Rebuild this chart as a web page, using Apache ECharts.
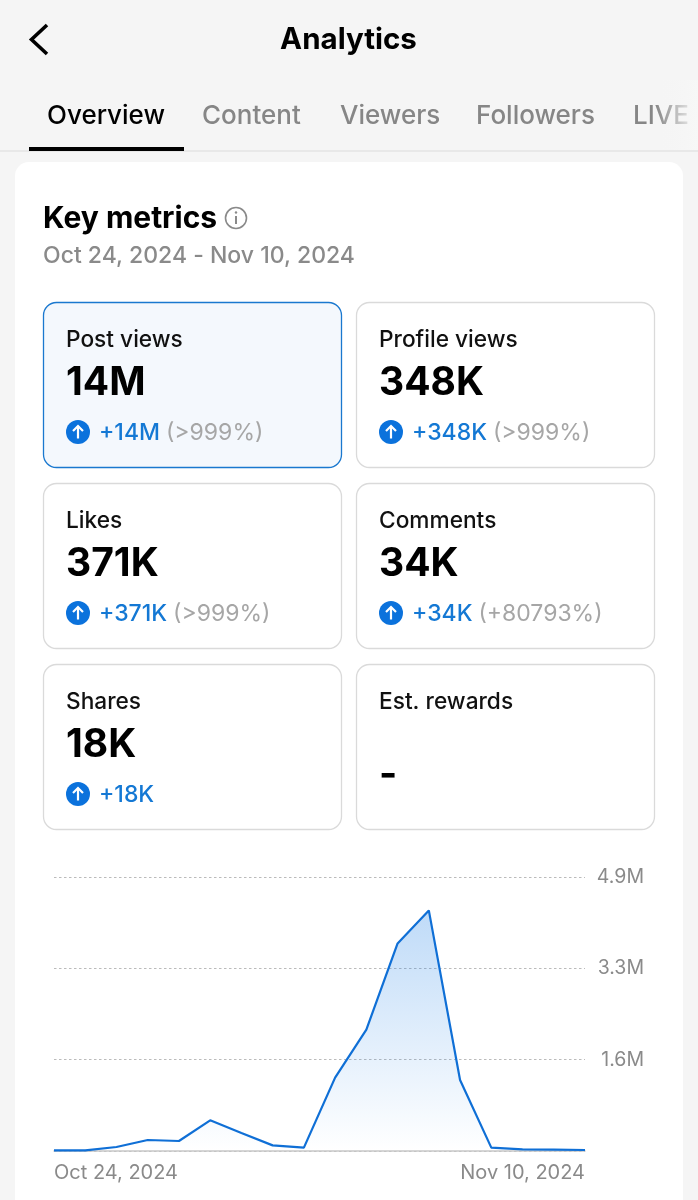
<!DOCTYPE html>
<html>
<head>
<meta charset="utf-8">
<title>Analytics</title>
<style>
  html, body { margin: 0; padding: 0; background: #f5f5f5; }
  #main { width: 698px; height: 1200px; }
</style>
<script src="https://cdn.jsdelivr.net/npm/echarts@6/dist/echarts.min.js"></script>
</head>
<body>
<div id="main"></div>
<script>
// chart data
const dates = ['Oct 24, 2024', 'Oct 25', 'Oct 26', 'Oct 27', 'Oct 28', 'Oct 29', 'Oct 30', 'Oct 31', 'Nov 1',
  'Nov 2', 'Nov 3', 'Nov 4', 'Nov 5', 'Nov 6', 'Nov 7', 'Nov 8', 'Nov 9', 'Nov 10, 2024'];
const postViews = [12000, 12000, 72000, 197000, 179000, 549000, 322000, 101000, 60000,
  1313000, 2172000, 3712000, 4303000, 1271000, 60000, 30000, 24000, 18000];
const yTickLabels = ['', '1.6M', '3.3M', '4.9M'];
const yMax = 4900000;

// ui text
const tabNames = ['Overview', 'Content', 'Viewers', 'Followers', 'LIVE'];
const tabLefts = [47, 202, 340, 476, 633];
const metricNames = ['Post views', 'Profile views', 'Likes', 'Comments', 'Shares', 'Est. rewards'];
const metricValues = ['14M', '348K', '371K', '34K', '18K', '-'];
const metricDeltas = ['+14M', '+348K', '+371K', '+34K', '+18K', ''];
const metricPercents = ['(>999%)', '(>999%)', '(>999%)', '(+80793%)', '', ''];

const FONT = 'Inter, "Noto Sans", sans-serif';
const BLUE = '#0f6fd6';

function text(x, y, str, size, weight, fill, align) {
  return {
    type: 'text',
    x: x,
    y: y + 1.5, // Inter sits a bit high with middle alignment
    style: { text: str, font: weight + ' ' + size + 'px ' + FONT, fill: fill, textAlign: align || 'left', textVerticalAlign: 'middle' }
  };
}

const elements = [];

// header
elements.push({ type: 'polyline', shape: { points: [[47, 25], [31.5, 39.5], [47, 54]] }, style: { stroke: '#000', lineWidth: 3.6, fill: null } });
elements.push(text(348.5, 39, 'Analytics', 29.5, 700, '#000', 'center'));

// tabs
tabNames.forEach((name, i) => {
  elements.push(text(tabLefts[i], 115, name, 26, 500, i === 0 ? '#000' : '#868686'));
});
elements.push({
  type: 'rect', shape: { x: 655, y: 80, width: 43, height: 70 },
  style: { fill: new echarts.graphic.LinearGradient(0, 0, 1, 0, [
    { offset: 0, color: 'rgba(245,245,245,0)' },
    { offset: 1, color: '#f7f7f7' }
  ]) }
});
elements.push({ type: 'rect', shape: { x: 0, y: 150.5, width: 698, height: 1 }, style: { fill: '#dcdcdc' } });
elements.push({ type: 'rect', shape: { x: 29, y: 147, width: 155, height: 4 }, style: { fill: '#000' } });

// white panel
elements.push({ type: 'rect', z: -1, shape: { x: 15, y: 162, width: 668, height: 1060, r: 14 }, style: { fill: '#fff' } });
elements.push(text(43, 217.5, 'Key metrics', 30, 700, '#000'));
elements.push({ type: 'circle', shape: { cx: 236, cy: 218, r: 10.5 }, style: { stroke: '#8a8a8a', lineWidth: 1.6, fill: null } });
elements.push({ type: 'rect', shape: { x: 235, y: 216, width: 2, height: 8 }, style: { fill: '#8a8a8a' } });
elements.push({ type: 'circle', shape: { cx: 236, cy: 212.5, r: 1.2 }, style: { fill: '#8a8a8a' } });
elements.push(text(43, 255, 'Oct 24, 2024 - Nov 10, 2024', 23, 500, '#8a8a8a'));

// metric cards
metricNames.forEach((name, i) => {
  const left = i % 2 === 0 ? 43 : 356;
  const top = 302 + Math.floor(i / 2) * 181;
  const active = i === 0;
  elements.push({
    type: 'rect',
    shape: { x: left + 0.5, y: top + 0.5, width: 298, height: 165, r: 13 },
    style: { fill: active ? '#f4f8fd' : '#fff', stroke: active ? '#1a78cf' : '#dadada', lineWidth: 1.3 }
  });
  elements.push(text(left + 23, top + 37, name, 22.7, 500, '#111'));
  // the empty reward value sits lower than the numbers
  elements.push(text(left + 23, top + (metricValues[i] === '-' ? 110 : 80), metricValues[i], 39, 700, '#000'));
  if (metricDeltas[i]) {
    const cx = left + 35, cy = top + 130;
    elements.push({ type: 'circle', shape: { cx: cx, cy: cy, r: 12 }, style: { fill: '#0b72dc' } });
    elements.push({ type: 'polyline', shape: { points: [[cx, cy + 6.5], [cx, cy - 6]] }, style: { stroke: '#fff', lineWidth: 2.2, fill: null } });
    elements.push({ type: 'polyline', shape: { points: [[cx - 5, cy - 1], [cx, cy - 6], [cx + 5, cy - 1]] }, style: { stroke: '#fff', lineWidth: 2.2, fill: null } });
    const deltaEl = text(left + 56, cy, metricDeltas[i], 23, 500, '#1478d4');
    elements.push(deltaEl);
    const deltaWidth = echarts.format.getTextRect(metricDeltas[i], deltaEl.style.font).width;
    if (metricPercents[i]) {
      elements.push(text(left + 56 + deltaWidth + 6, cy, metricPercents[i], 23, 400, '#a6a6a6'));
    }
  }
});

const chart = echarts.init(document.getElementById('main'));
chart.setOption({
  backgroundColor: '#f5f5f5',
  animation: false,
  graphic: { elements: elements },
  grid: { left: 54, right: 113, top: 877, bottom: 49 },
  xAxis: {
    type: 'category',
    data: dates,
    boundaryGap: false,
    axisLine: { lineStyle: { color: '#c8c8c8', width: 1.5 } },
    axisTick: { show: false },
    axisLabel: {
      customValues: [0, 17],
      alignMinLabel: 'left',
      alignMaxLabel: 'right',
      margin: 12,
      color: '#8a8a8a',
      fontFamily: FONT,
      fontSize: 20
    }
  },
  yAxis: {
    type: 'value',
    position: 'right',
    min: 0,
    max: yMax,
    interval: yMax / 3,
    axisLine: { show: false },
    axisTick: { show: false },
    splitLine: { lineStyle: { color: '#bbbbbb', type: [2.5, 2.5], width: 1.2 } },
    axisLabel: {
      align: 'right',
      margin: 59,
      color: '#8a8a8a',
      fontFamily: FONT,
      fontSize: 19.5,
      formatter: (value, index) => yTickLabels[index]
    }
  },
  series: [{
    type: 'line',
    data: postViews,
    symbol: 'none',
    lineStyle: { color: BLUE, width: 2.2 },
    areaStyle: {
      opacity: 1,
      color: new echarts.graphic.LinearGradient(0, 0, 0, 1, [
        { offset: 0, color: 'rgba(25,125,230,0.28)' },
        { offset: 1, color: 'rgba(25,125,230,0)' }
      ])
    }
  }]
});
</script>
</body>
</html>
